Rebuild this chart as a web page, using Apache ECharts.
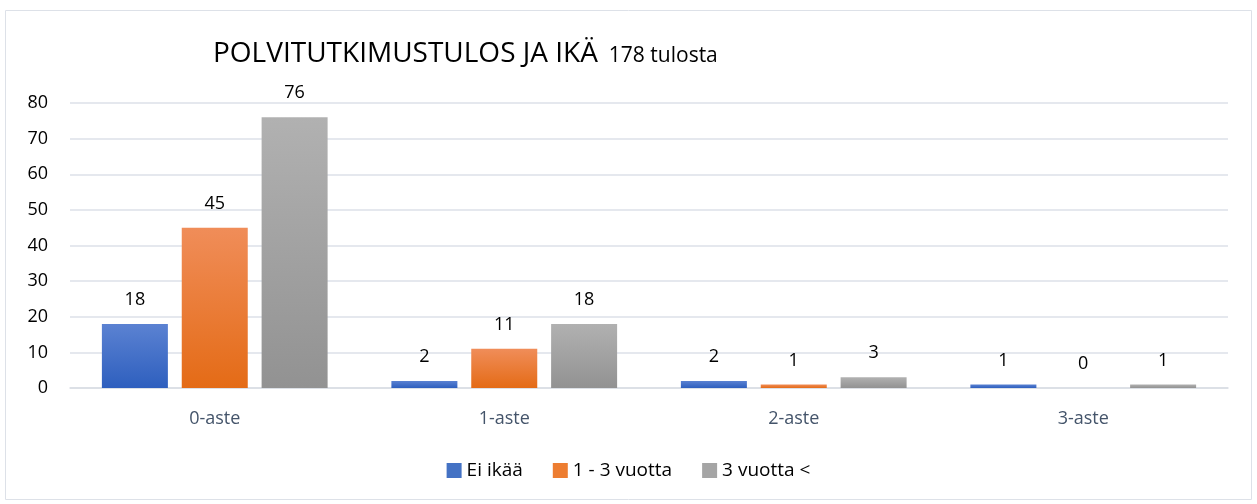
<!DOCTYPE html>
<html>
<head>
<meta charset="utf-8">
<script src="https://cdn.jsdelivr.net/npm/echarts@6/dist/echarts.min.js"></script>
<style>
  html, body { margin: 0; padding: 0; background: #fff; }
  #chart { width: 1257px; height: 504px; }
</style>
</head>
<body>
<div id="chart"></div>
<script>
const categories = ['0-aste', '1-aste', '2-aste', '3-aste']
const seriesNames = ['Ei ikää', '1 - 3 vuotta', '3 vuotta <']
const eiIkaa = [18, 2, 2, 1]
const vuotta1to3 = [45, 11, 1, 0]
const vuotta3plus = [76, 18, 3, 1]

const FONT = '"Open Sans", "Liberation Sans", sans-serif'

function grad (top, bottom) {
  return new echarts.graphic.LinearGradient(0, 0, 0, 1, [
    { offset: 0, color: top },
    { offset: 1, color: bottom }
  ])
}

const colors = [
  grad('#5b82d2', '#2e5fbe'),
  grad('#f08d59', '#e46b16'),
  grad('#b1b1b1', '#929292')
]
const legendColors = ['#4472c4', '#ed7d31', '#a5a5a5']

let chart = echarts.init(document.getElementById('chart'))

function makeSeries (name, data, i) {
  return {
    name: name,
    type: 'bar',
    data: data,
    barWidth: 66,
    barGap: '21%',
    itemStyle: { color: colors[i] },
    label: {
      show: true,
      position: 'top',
      distance: 15,
      color: '#000',
      fontSize: 18,
      fontFamily: FONT
    }
  }
}

chart.setOption({
  animation: false,
  color: legendColors,
  graphic: [{
    type: 'rect',
    shape: { x: 5.5, y: 10.5, width: 1246, height: 489 },
    style: { fill: 'none', stroke: '#dde1e8', lineWidth: 1 },
    z: -1
  }],
  title: {
    text: '{a|POLVITUTKIMUSTULOS JA IKÄ}{b|  178 tulosta}',
    left: 208,
    top: 35,
    textStyle: {
      fontWeight: 'normal',
      rich: {
        a: { fontSize: 28, color: '#000', fontFamily: FONT, fontWeight: 'normal' },
        b: { fontSize: 21, color: '#000', fontFamily: FONT, fontWeight: 'normal', padding: [4, 0, 0, 0] }
      }
    }
  },
  legend: {
    bottom: 19,
    left: 'center',
    itemWidth: 15,
    itemHeight: 15,
    itemGap: 30,
    icon: 'rect',
    textStyle: { fontSize: 19, color: '#000', fontFamily: FONT },
    data: seriesNames.map((n, i) => ({ name: n, itemStyle: { color: legendColors[i] } }))
  },
  grid: { left: 70, right: 29, top: 103, bottom: 116 },
  xAxis: {
    type: 'category',
    data: categories,
    axisTick: { show: false },
    axisLine: { lineStyle: { color: '#d9dde4', width: 1.5 } },
    axisLabel: { color: '#44546a', fontSize: 18, fontFamily: FONT, margin: 22 }
  },
  yAxis: {
    type: 'value',
    min: 0,
    max: 80,
    interval: 10,
    axisLine: { show: false },
    axisTick: { show: false },
    axisLabel: { color: '#000', fontSize: 18, fontFamily: FONT, margin: 22 },
    splitLine: { lineStyle: { color: '#dde1e8', width: 1.5 } }
  },
  series: [
    makeSeries(seriesNames[0], eiIkaa, 0),
    makeSeries(seriesNames[1], vuotta1to3, 1),
    makeSeries(seriesNames[2], vuotta3plus, 2)
  ]
})
</script>
</body>
</html>
